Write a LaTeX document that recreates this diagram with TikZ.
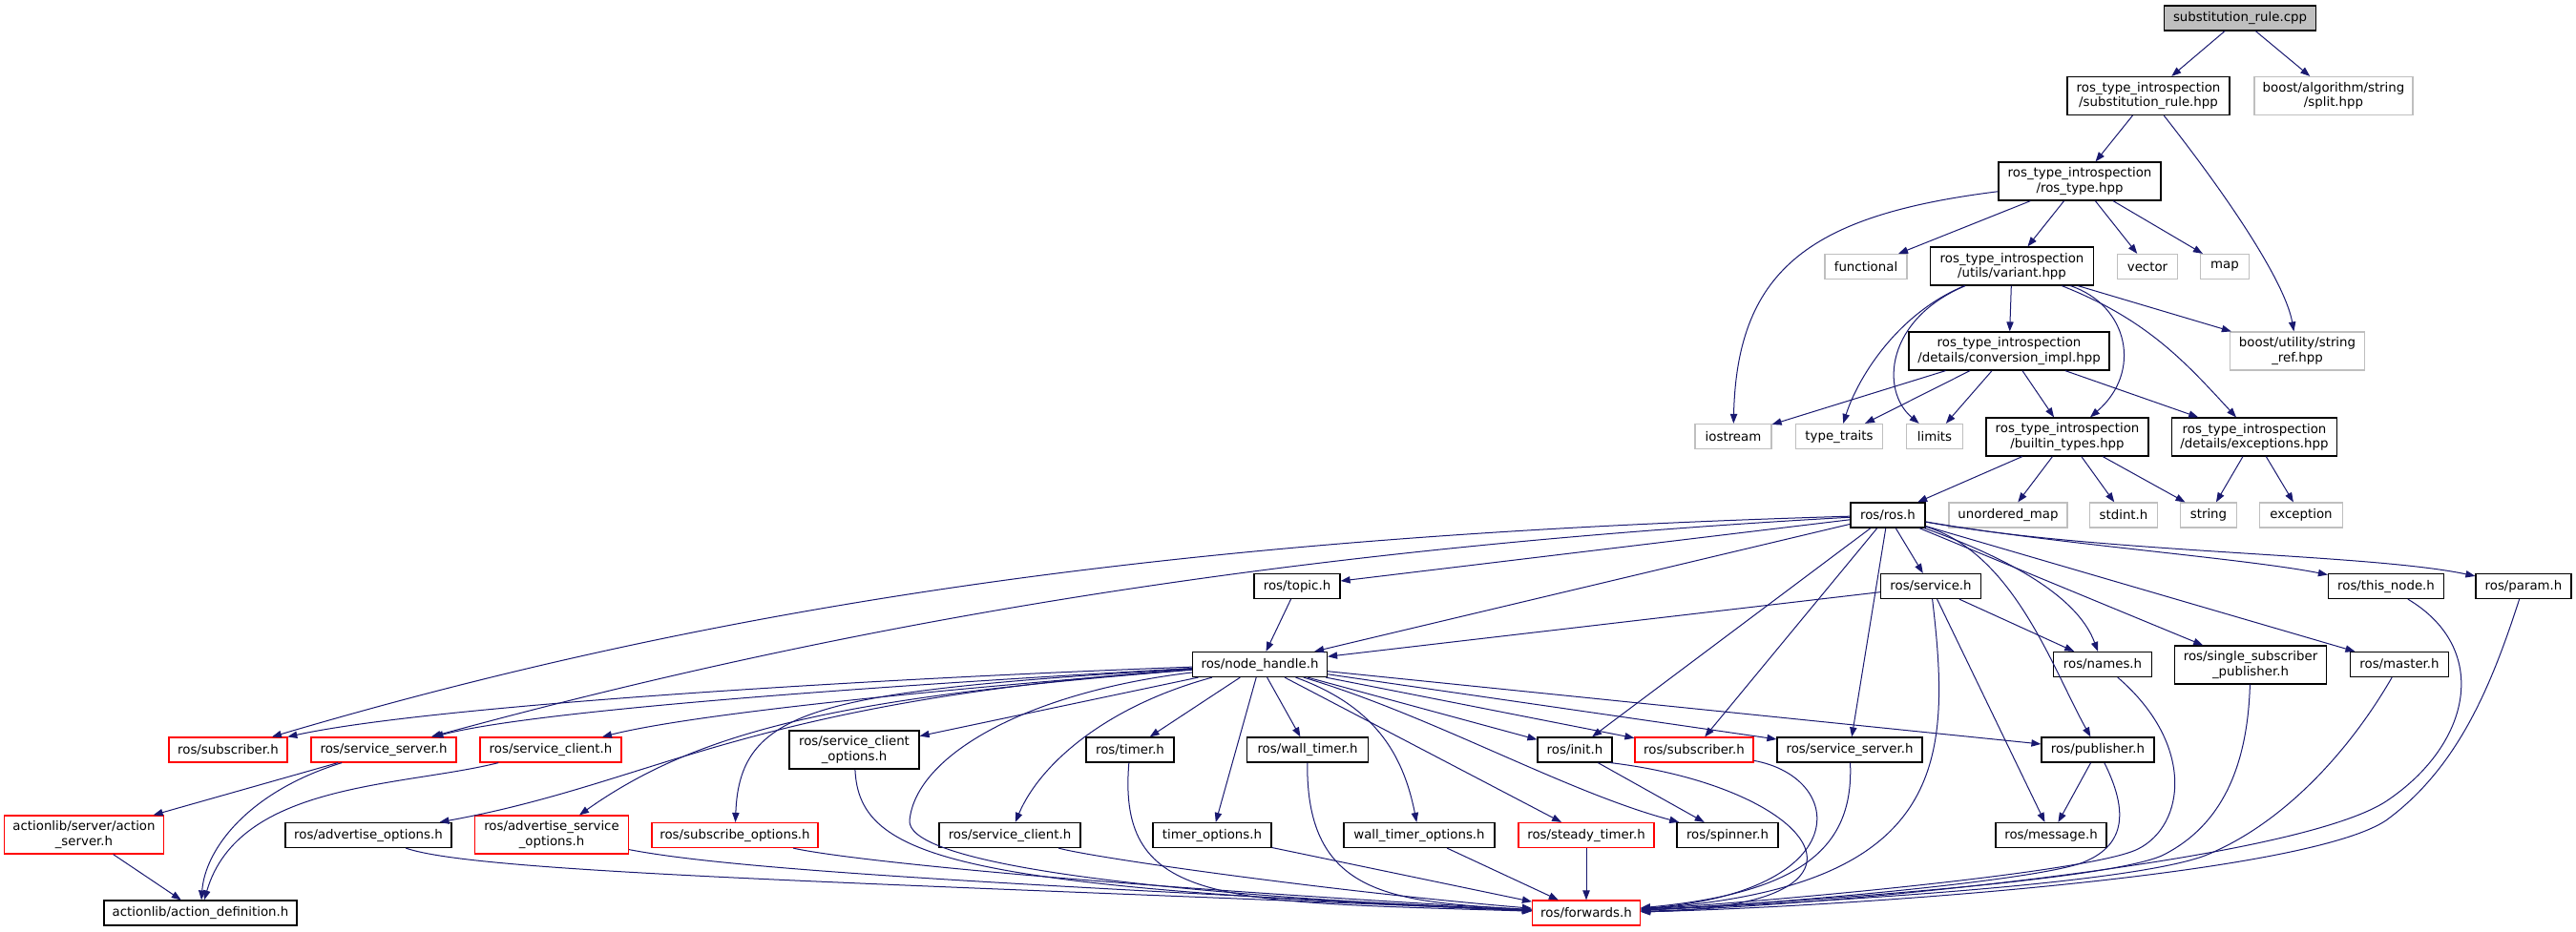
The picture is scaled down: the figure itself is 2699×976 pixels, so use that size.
\documentclass[tikz,border=0pt]{standalone}
\usepackage{fontspec}
\setmainfont{DejaVu Sans}
\usetikzlibrary{arrows.meta}
\definecolor{edgeblue}{HTML}{191970}
\definecolor{sysgray}{HTML}{BFBFBF}
\definecolor{maingray}{HTML}{BFBFBF}
\begin{document}
\begin{tikzpicture}[x=0.75pt,y=-0.75pt,
  box/.style={rectangle,draw,fill=white,line width=0.9pt,inner sep=0pt,align=center,
    minimum height=19.5pt,font=\fontsize{10}{11.5}\selectfont},
  file/.style={box,draw=black},
  sys/.style={box,draw=sysgray},
  trunc/.style={box,draw=red},
  mainfile/.style={box,draw=black,fill=maingray},
  two/.style={minimum height=30pt},
  wd/.style={minimum width=#1*0.75pt},
  inc/.style={draw=edgeblue,line width=0.75pt,-{Triangle[length=7.5pt,width=5.5pt]}}]
\path[use as bounding box,fill=white] (0,0) rectangle (2699,976);
% files
\node[mainfile,wd=159] (cpp) at (2347,19) {substitution\_rule.cpp};
\node[file,two,wd=170] (srhpp) at (2251,100.5) {ros\_type\_introspection\\/substitution\_rule.hpp};
\node[sys,two,wd=166] (split) at (2445,100.5) {boost/algorithm/string\\/split.hpp};
\node[file,two,wd=170] (rostype) at (2179,190) {ros\_type\_introspection\\/ros\_type.hpp};
\node[sys,wd=86] (functional) at (1955,279.5) {functional};
\node[file,two,wd=171] (variant) at (2108,279) {ros\_type\_introspection\\/utils/variant.hpp};
\node[sys,wd=63] (vector) at (2250,279.5) {vector};
\node[sys,wd=51] (map) at (2331,279.5) {map};
\node[file,two,wd=210] (conv) at (2105,368) {ros\_type\_introspection\\/details/conversion\_impl.hpp};
\node[sys,two,wd=141] (strref) at (2407,368) {boost/utility/string\\\_ref.hpp};
\node[sys,wd=80] (iostream) at (1816,457.5) {iostream};
\node[sys,wd=91] (typetraits) at (1927,457.5) {type\_traits};
\node[sys,wd=59] (limits) at (2027,457.5) {limits};
\node[file,two,wd=170] (builtin) at (2166,458) {ros\_type\_introspection\\/builtin\_types.hpp};
\node[file,two,wd=173] (exceptions) at (2362,458) {ros\_type\_introspection\\/details/exceptions.hpp};
\node[file,wd=78] (ros) at (1978,540) {ros/ros.h};
\node[sys,wd=124] (umap) at (2104,540) {unordered\_map};
\node[sys,wd=71] (stdint) at (2225,540) {stdint.h};
\node[sys,wd=59] (string) at (2314,540) {string};
\node[sys,wd=87] (exception) at (2411,540) {exception};
\node[file,wd=90] (topic) at (1359,614.5) {ros/topic.h};
\node[file,wd=105] (service) at (2023,614.5) {ros/service.h};
\node[file,wd=121] (thisnode) at (2500,614.5) {ros/this\_node.h};
\node[file,wd=100] (param) at (2644,614.5) {ros/param.h};
\node[file,wd=141] (nh) at (1320,696.5) {ros/node\_handle.h};
\node[file,wd=103] (names) at (2203,696.5) {ros/names.h};
\node[file,two,wd=159] (ssp) at (2358,697) {ros/single\_subscriber\\\_publisher.h};
\node[file,wd=103] (master) at (2514,696.5) {ros/master.h};
\node[trunc,wd=124] (subA) at (239,786) {ros/subscriber.h};
\node[trunc,wd=152] (ssA) at (402,786) {ros/service\_server.h};
\node[trunc,wd=148] (sclA) at (577,786) {ros/service\_client.h};
\node[file,two,wd=136] (sco) at (895,786) {ros/service\_client\\\_options.h};
\node[file,wd=92] (timer) at (1184,786) {ros/timer.h};
\node[file,wd=127] (walltimer) at (1370,786) {ros/wall\_timer.h};
\node[file,wd=78] (init) at (1650,786) {ros/init.h};
\node[trunc,wd=124] (subB) at (1775,786) {ros/subscriber.h};
\node[file,wd=152] (ssB) at (1938,786) {ros/service\_server.h};
\node[file,wd=118] (publisher) at (2198,786) {ros/publisher.h};
\node[trunc,two,wd=167] (actserver) at (88,875) {actionlib/server/action\\\_server.h};
\node[file,wd=174] (advopt) at (386,875.5) {ros/advertise\_options.h};
\node[trunc,two,wd=161] (advsrvopt) at (578,875) {ros/advertise\_service\\\_options.h};
\node[trunc,wd=174] (subopt) at (770,875.5) {ros/subscribe\_options.h};
\node[file,wd=148] (scl) at (1058,875.5) {ros/service\_client.h};
\node[file,wd=124] (timeropt) at (1270,875.5) {timer\_options.h};
\node[file,wd=158] (walltimeropt) at (1487,875.5) {wall\_timer\_options.h};
\node[trunc,wd=142] (steady) at (1662,875.5) {ros/steady\_timer.h};
\node[file,wd=106] (spinner) at (1810,875.5) {ros/spinner.h};
\node[file,wd=116] (message) at (2149,875.5) {ros/message.h};
\node[file,wd=202] (actdef) at (210,957) {actionlib/action\_definition.h};
\node[trunc,wd=113] (forwards) at (1662,957) {ros/forwards.h};
% includes
\draw[inc] (cpp) -- (srhpp);
\draw[inc] (cpp) -- (split);
\draw[inc] (srhpp) -- (rostype);
\draw[inc] (srhpp) .. controls (2345,220) and (2395,300) .. (strref);
\draw[inc] (rostype) .. controls (1900,225) and (1820,280) .. (iostream);
\draw[inc] (rostype) -- (functional);
\draw[inc] (rostype) -- (variant);
\draw[inc] (rostype) -- (vector);
\draw[inc] (rostype) -- (map);
\draw[inc] (variant) -- (conv);
\draw[inc] (variant) -- (strref);
\draw[inc] (variant) .. controls (1985,330) and (1945,400) .. (typetraits);
\draw[inc] (variant) .. controls (1975,335) and (1970,410) .. (limits);
\draw[inc] (variant) .. controls (2230,320) and (2245,390) .. (builtin);
\draw[inc] (variant) .. controls (2250,335) and (2290,380) .. (exceptions);
\draw[inc] (conv) -- (iostream);
\draw[inc] (conv) -- (typetraits);
\draw[inc] (conv) -- (limits);
\draw[inc] (conv) -- (builtin);
\draw[inc] (conv) -- (exceptions);
\draw[inc] (builtin) -- (ros);
\draw[inc] (builtin) -- (umap);
\draw[inc] (builtin) -- (stdint);
\draw[inc] (builtin) -- (string);
\draw[inc] (exceptions) -- (string);
\draw[inc] (exceptions) -- (exception);
\draw[inc] (ros) .. controls (1300,560) and (800,620) .. (subA);
\draw[inc] (ros) .. controls (1350,575) and (900,650) .. (ssA);
\draw[inc] (ros) -- (topic);
\draw[inc] (ros) -- (nh);
\draw[inc] (ros) -- (service);
\draw[inc] (ros) -- (init);
\draw[inc] (ros) -- (subB);
\draw[inc] (ros) -- (ssB);
\draw[inc] (ros) .. controls (2110,580) and (2150,700) .. (publisher);
\draw[inc] (ros) .. controls (2090,580) and (2175,620) .. (names);
\draw[inc] (ros) -- (ssp);
\draw[inc] (ros) -- (master);
\draw[inc] (ros) .. controls (2150,570) and (2350,585) .. (thisnode);
\draw[inc] (ros) .. controls (2200,580) and (2480,580) .. (param);
\draw[inc] (topic) -- (nh);
\draw[inc] (service) -- (nh);
\draw[inc] (service) -- (names);
\draw[inc] (service) -- (message);
\draw[inc] (service) .. controls (2045,800) and (2040,930) .. (forwards);
\draw[inc] (nh) .. controls (900,712) and (450,740) .. (subA);
\draw[inc] (nh) .. controls (900,720) and (560,745) .. (ssA);
\draw[inc] (nh) .. controls (950,725) and (720,750) .. (sclA);
\draw[inc] (nh) .. controls (780,735) and (690,820) .. (advopt);
\draw[inc] (nh) .. controls (900,730) and (740,760) .. (advsrvopt);
\draw[inc] (nh) .. controls (860,725) and (775,740) .. (subopt);
\draw[inc] (nh) -- (sco);
\draw[inc] (nh) .. controls (1080,725) and (960,790) .. (953,860) .. controls (950,900) and (1150,935) .. (forwards);
\draw[inc] (nh) .. controls (1160,740) and (1090,800) .. (scl);
\draw[inc] (nh) -- (timer);
\draw[inc] (nh) -- (timeropt);
\draw[inc] (nh) -- (walltimer);
\draw[inc] (nh) .. controls (1440,740) and (1470,790) .. (walltimeropt);
\draw[inc] (nh) -- (steady);
\draw[inc] (nh) -- (init);
\draw[inc] (nh) -- (subB);
\draw[inc] (nh) .. controls (1500,750) and (1640,830) .. (spinner);
\draw[inc] (nh) -- (ssB);
\draw[inc] (nh) -- (publisher);
\draw[inc] (ssA) -- (actserver);
\draw[inc] (ssA) .. controls (260,830) and (215,890) .. (actdef);
\draw[inc] (sclA) .. controls (420,825) and (250,820) .. (actdef);
\draw[inc] (actserver) -- (actdef);
\draw[inc] (advopt) .. controls (500,915) and (900,925) .. (forwards);
\draw[inc] (advsrvopt) .. controls (760,910) and (1000,925) .. (forwards);
\draw[inc] (subopt) .. controls (880,900) and (1100,925) .. (forwards);
\draw[inc] (sco) .. controls (900,900) and (1000,930) .. (forwards);
\draw[inc] (scl) .. controls (1150,900) and (1400,935) .. (forwards);
\draw[inc] (timer) .. controls (1170,950) and (1280,945) .. (forwards);
\draw[inc] (timeropt) -- (forwards);
\draw[inc] (walltimer) .. controls (1368,940) and (1460,945) .. (forwards);
\draw[inc] (walltimeropt) -- (forwards);
\draw[inc] (steady) -- (forwards);
\draw[inc] (init) -- (spinner);
\draw[inc] (init.-20) .. controls (1900,825) and (2000,950) .. (forwards);
\draw[inc] (subB) .. controls (1935,815) and (1945,935) .. (forwards);
\draw[inc] (ssB) .. controls (1942,880) and (1900,935) .. (forwards);
\draw[inc] (publisher) -- (message);
\draw[inc] (publisher) .. controls (2235,860) and (2220,890) .. (2180,905) .. controls (2120,925) and (1850,948) .. (forwards);
\draw[inc] (names) .. controls (2300,780) and (2290,865) .. (2240,890) .. controls (2190,915) and (1850,945) .. (forwards);
\draw[inc] (ssp) .. controls (2355,800) and (2330,865) .. (2265,897) .. controls (2200,925) and (1850,947) .. (forwards);
\draw[inc] (master) .. controls (2460,790) and (2390,865) .. (2310,897) .. controls (2220,930) and (1850,948) .. (forwards);
\draw[inc] (thisnode) .. controls (2610,680) and (2590,780) .. (2500,840) .. controls (2400,905) and (1900,950) .. (forwards);
\draw[inc] (param) .. controls (2610,720) and (2575,805) .. (2500,860) .. controls (2410,920) and (1900,952) .. (forwards);
\end{tikzpicture}
\end{document}
